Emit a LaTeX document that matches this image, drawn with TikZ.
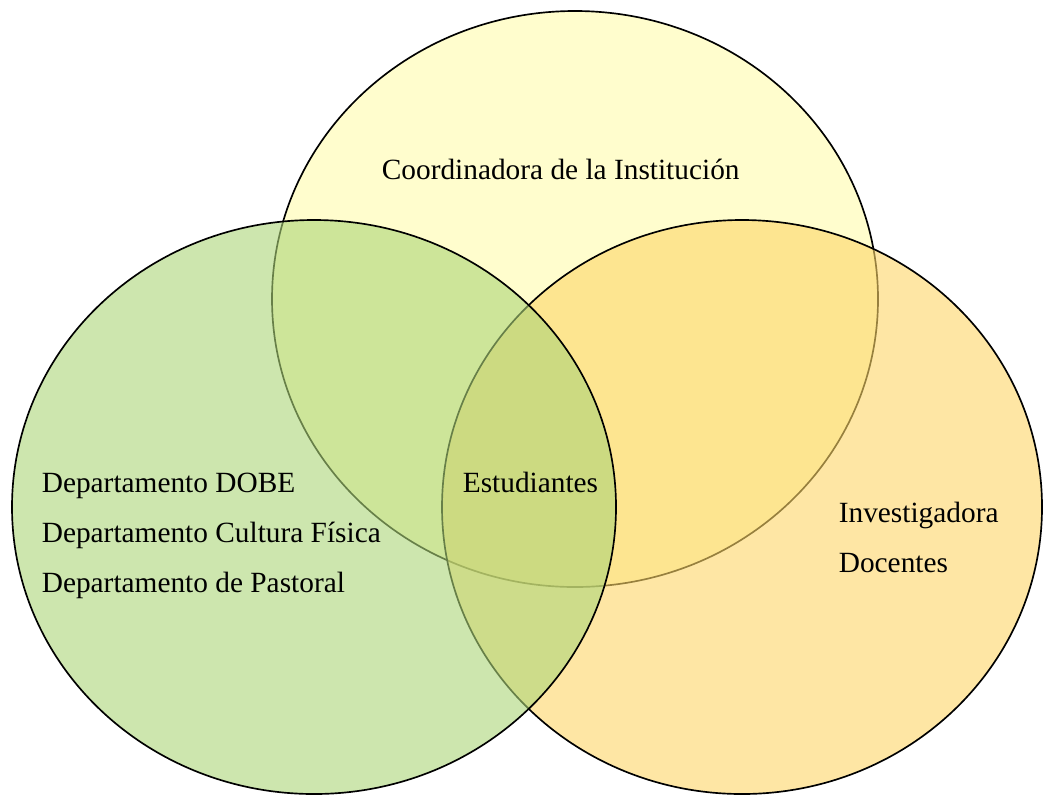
\documentclass[tikz,border=0pt]{standalone}
\usepackage{fontspec}
\setmainfont{Liberation Serif}
\definecolor{colInst}{RGB}{255,252,172}
\definecolor{colInv}{RGB}{253,214,104}
\definecolor{colDep}{RGB}{172,213,120}
\begin{document}
\begin{tikzpicture}[x=0.02cm, y=-0.02cm, line width=0.95pt,
	etiqueta/.style={anchor=base west, inner sep=0pt, font=\fontsize{16.7}{20}\selectfont}]
			\useasboundingbox (0, 0) rectangle (1043, 795);
			\draw[fill=colInst, fill opacity=0.6] (575, 299) ellipse [x radius=303, y radius=288];
			\draw[fill=colInv, fill opacity=0.6] (742, 507) ellipse [x radius=300, y radius=287];
			\draw[fill=colDep, fill opacity=0.6] (314, 507) ellipse [x radius=302, y radius=287];
			\node[etiqueta](T1) at (381, 179){Coordinadora de la Institución};
			\node[etiqueta](T2) at (41, 492){Departamento DOBE};
			\node[etiqueta](T3) at (41, 542){Departamento Cultura Física};
			\node[etiqueta](T4) at (41, 592){Departamento de Pastoral};
			\node[etiqueta](T5) at (462, 492){Estudiantes};
			\node[etiqueta](T6) at (838, 522){Investigadora};
			\node[etiqueta](T7) at (838, 572){Docentes};
		\end{tikzpicture}
\end{document}
